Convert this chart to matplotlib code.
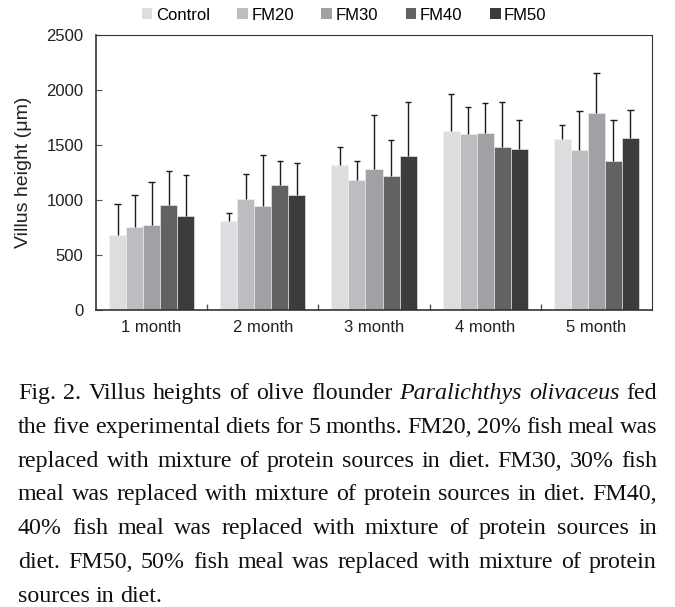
import matplotlib
matplotlib.use("Agg")
import matplotlib.pyplot as plt
from matplotlib.patches import Patch
import numpy as np

# data
months = ["1 month", "2 month", "3 month", "4 month", "5 month"]
groups = ["Control", "FM20", "FM30", "FM40", "FM50"]
control = [682, 809, 1315, 1624, 1555]
control_sd = [282, 73, 167, 340, 124]
fm20 = [757, 1006, 1182, 1597, 1452]
fm20_sd = [288, 234, 176, 251, 360]
fm30 = [770, 942, 1279, 1612, 1788]
fm30_sd = [394, 467, 494, 270, 364]
fm40 = [951, 1133, 1221, 1479, 1358]
fm40_sd = [310, 225, 327, 415, 366]
fm50 = [851, 1042, 1400, 1461, 1567]
fm50_sd = [376, 294, 491, 269, 254]

means = [control, fm20, fm30, fm40, fm50]
sds = [control_sd, fm20_sd, fm30_sd, fm40_sd, fm50_sd]
colors = ["#dcdddf", "#bcbdc0", "#a0a1a4", "#616264", "#3c3c3c"]

caption = [
    "Fig. 2. Villus heights of olive flounder *Paralichthys *olivaceus fed",
    "the five experimental diets for 5 months. FM20, 20% fish meal was",
    "replaced with mixture of protein sources in diet. FM30, 30% fish",
    "meal was replaced with mixture of protein sources in diet. FM40,",
    "40% fish meal was replaced with mixture of protein sources in",
    "diet. FM50, 50% fish meal was replaced with mixture of protein",
    "sources in diet.",
]

W, H = 675, 607
fig = plt.figure(figsize=(W / 100, H / 100), dpi=100)
ax = fig.add_axes([96 / W, 1 - 310 / H, 556 / W, 275 / H])

x = np.arange(len(months))
w = 0.153
for j in range(5):
    pos = x + (j - 2) * w
    ax.bar(pos, means[j], width=w, color=colors[j], edgecolor="#f4f4f4", linewidth=0.4, zorder=2)
    tops = np.array(means[j]) + np.array(sds[j])
    ax.vlines(pos, means[j], tops, color="#1a1a1a", lw=1, zorder=3)
    ax.hlines(tops, pos - 0.028, pos + 0.028, color="#1a1a1a", lw=1, zorder=3)

ax.set_xlim(-0.5, 4.5)
ax.set_ylim(0, 2500)
ax.set_yticks([0, 500, 1000, 1500, 2000, 2500])
ax.set_xticks([0.5, 1.5, 2.5, 3.5])
ax.set_xticklabels([])
ax.set_xticks(x, minor=True)
ax.set_xticklabels(months, minor=True, fontsize=12, family="Liberation Sans", color="#222222")
ax.tick_params(axis="x", which="major", direction="in", length=4, width=1, color="#555555")
ax.tick_params(axis="x", which="minor", length=0, pad=7)
ax.tick_params(axis="y", direction="in", length=4, width=0.8, color="#555555",
               labelsize=12, labelcolor="#222222", pad=9)
for lab in ax.get_yticklabels():
    lab.set_family("Liberation Sans")
for side in ["left", "bottom"]:
    ax.spines[side].set_color("#333333")
    ax.spines[side].set_linewidth(1.2)
for side in ["top", "right"]:
    ax.spines[side].set_color("#333333")
    ax.spines[side].set_linewidth(0.8)
ax.set_ylabel("Villus height (μm)", fontsize=14, family="Liberation Sans", color="#222222", labelpad=10)

handles = [Patch(facecolor=c, edgecolor="none") for c in colors]
fig.legend(handles, groups, loc="center", bbox_to_anchor=(344 / W, 1 - 15 / H), ncol=5,
           frameon=False, handlelength=0.65, handleheight=0.65, handletextpad=0.2,
           columnspacing=1.65, prop={"family": "Liberation Sans", "size": 12})

# justified caption, word by word
fig.canvas.draw()
renderer = fig.canvas.get_renderer()
left, right = 18, 657


def place_line(words, yb, fs):
    texts = []
    for wd in words:
        italic = wd.startswith("*")
        t = fig.text(0, yb, wd.lstrip("*"), fontsize=fs, family="Liberation Serif",
                     style="italic" if italic else "normal", va="baseline", color="#111111")
        texts.append(t)
    widths = [t.get_window_extent(renderer).width for t in texts]
    return texts, widths


# pick the largest size that lets every line fit
fs = 18.0
while fs > 12:
    ok = True
    for line in caption[:-1]:
        words = line.split(" ")
        texts, widths = place_line(words, 0, fs)
        space = fs * 100 / 72 * 0.2
        if sum(widths) + space * (len(words) - 1) > right - left:
            ok = False
        for t in texts:
            t.remove()
    if ok:
        break
    fs -= 0.25

for i, line in enumerate(caption):
    yb = 1 - (399 + i * 33.8) / H
    words = line.split(" ")
    texts, widths = place_line(words, yb, fs)
    if i < len(caption) - 1:
        gap = (right - left - sum(widths)) / (len(words) - 1)
    else:
        gap = fs * 0.25 * 100 / 72
    xp = left
    for t, wd in zip(texts, widths):
        t.set_x(xp / W)
        xp += wd + gap

fig.savefig("out.png", dpi=100)
